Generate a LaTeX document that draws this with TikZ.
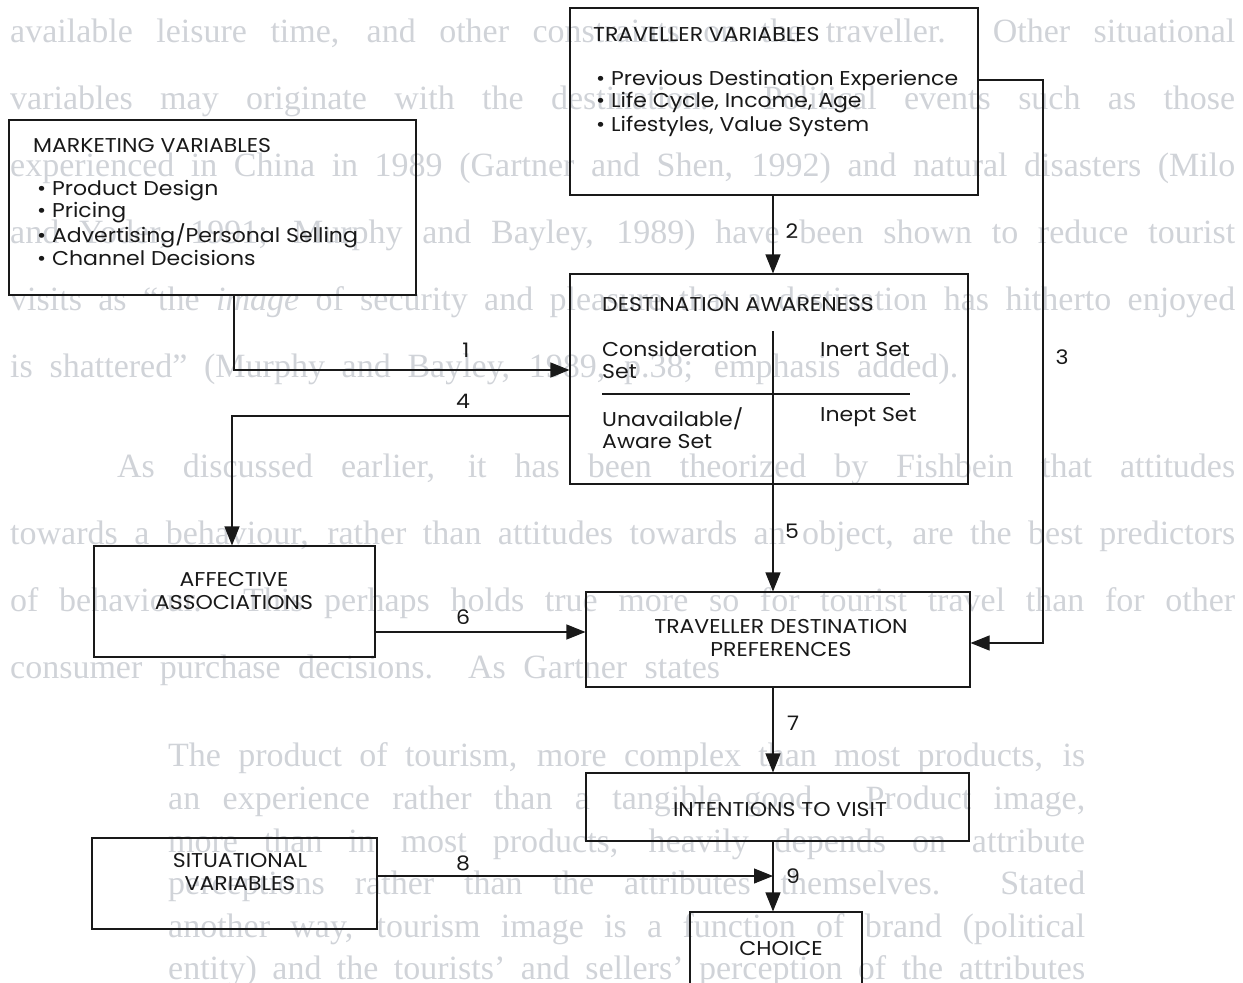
\documentclass[tikz,border=0pt]{standalone}
\usepackage{fontspec}
\setmainfont{Liberation Serif}
\newfontfamily\diag{Poppins}[FakeStretch=1.1]
\usetikzlibrary{arrows.meta}

\definecolor{ink}{RGB}{25,25,25}
\definecolor{faded}{RGB}{208,211,216}

\begin{document}
\begin{tikzpicture}[x=1pt,y=-1pt,
  box/.style={draw=ink, line width=1.1pt, inner sep=0pt},
  lbl/.style={font=\diag\fontsize{20}{22.5}\selectfont, text=ink, inner sep=0pt},
  num/.style={font=\diag\fontsize{20}{22.5}\selectfont, text=ink, inner sep=0pt},
  flow/.style={draw=ink, line width=1.1pt, -{Triangle[length=19pt,width=15pt]}},
  rule/.style={draw=ink, line width=1.1pt},
  para/.style={font=\fontsize{34}{34}\selectfont, text=faded, anchor=base west, inner sep=0pt}]

\useasboundingbox (0,0) rectangle (1243,983);

% ---------- running text of the page ----------
\node[para] (t1) at (10,42) {\makebox[1225pt][s]{available leisure time, and other constraints on the traveller.\ \ Other situational}};
\node[para] (t2) at (10,109) {\makebox[1225pt][s]{variables may originate with the destination.\ \ Political events such as those}};
\node[para] (t3) at (10,176) {\makebox[1225pt][s]{experienced in China in 1989 (Gartner and Shen, 1992) and natural disasters (Milo}};
\node[para] (t4) at (10,243) {\makebox[1225pt][s]{and Yoder, 1991; Murphy and Bayley, 1989) have been shown to reduce tourist}};
\node[para] (t5) at (10,310) {\makebox[1225pt][s]{visits as ``the \textit{image} of security and pleasure that a destination has hitherto enjoyed}};
\node[para] (t6) at (10,377) {\makebox[948pt][s]{is shattered'' (Murphy and Bayley, 1989, p.38; emphasis added).}};
\node[para] (t7) at (117,477) {\makebox[1118pt][s]{As discussed earlier, it has been theorized by Fishbein that attitudes}};
\node[para] (t8) at (10,544) {\makebox[1225pt][s]{towards a behaviour, rather than attitudes towards an object, are the best predictors}};
\node[para] (t9) at (10,611) {\makebox[1225pt][s]{of behaviour.\ \ This perhaps holds true more so for tourist travel than for other}};
\node[para] (t10) at (10,678) {\makebox[710pt][s]{consumer purchase decisions.\ \ As Gartner states}};
\node[para] (q1) at (168,766) {\makebox[917pt][s]{The product of tourism, more complex than most products, is}};
\node[para] (q2) at (168,809) {\makebox[917pt][s]{an experience rather than a tangible good.\ \ Product image,}};
\node[para] (q3) at (168,852) {\makebox[917pt][s]{more than in most products, heavily depends on attribute}};
\node[para] (q4) at (168,894) {\makebox[917pt][s]{perceptions rather than the attributes themselves.\ \ Stated}};
\node[para] (q5) at (168,937) {\makebox[917pt][s]{another way, tourism image is a function of brand (political}};
\node[para] (q6) at (168,979) {\makebox[917pt][s]{entity) and the tourists' and sellers' perception of the attributes}};

% ---------- boxes ----------
\node[box, minimum width=408pt, minimum height=187pt] (trav)   at (774,101.5) {};
\node[box, minimum width=407pt, minimum height=175pt] (mkt)    at (212.5,207.5) {};
\node[box, minimum width=398pt, minimum height=210pt] (aware)  at (769,379) {};
\node[box, minimum width=281pt, minimum height=111pt] (aff)    at (234.5,601.5) {};
\node[box, minimum width=384pt, minimum height=95pt]  (pref)   at (778,639.5) {};
\node[box, minimum width=383pt, minimum height=68pt]  (intent) at (777.5,807) {};
\node[box, minimum width=285pt, minimum height=91pt]  (sit)    at (234.5,883.5) {};
\node[box, minimum width=172pt, minimum height=88pt]  (choice) at (776,956) {};

% ---------- box texts ----------
\node[lbl, anchor=west] (travT) at (593,35) {TRAVELLER VARIABLES};
\node[lbl, anchor=west] (trav1) at (596,80) {\textbullet\ Previous Destination Experience};
\node[lbl, anchor=west] (trav2) at (596,103) {\textbullet\ Life Cycle, Income, Age};
\node[lbl, anchor=west] (trav3) at (596,126) {\textbullet\ Lifestyles, Value System};

\node[lbl, anchor=west] (mktT) at (33,146) {MARKETING VARIABLES};
\node[lbl, anchor=west] (mkt1) at (37,191) {\textbullet\ Product Design};
\node[lbl, anchor=west] (mkt2) at (37,213) {\textbullet\ Pricing};
\node[lbl, anchor=west] (mkt3) at (37,236) {\textbullet\ Advertising/Personal Selling};
\node[lbl, anchor=west] (mkt4) at (37,258) {\textbullet\ Channel Decisions};

\node[lbl, anchor=west] (awT) at (602,305) {DESTINATION AWARENESS};
\node[lbl, anchor=west, align=left] (aw1) at (602,360) {Consideration\\Set};
\node[lbl, anchor=west] (aw2) at (820,350) {Inert Set};
\node[lbl, anchor=west, align=left] (aw3) at (602,428) {Unavailable/\\Aware Set};
\node[lbl, anchor=west] (aw4) at (820,417) {Inept Set};

\node[lbl, align=center] (affT) at (234,591) {AFFECTIVE\\ASSOCIATIONS};
\node[lbl, align=center] (prefT) at (781,638) {TRAVELLER DESTINATION\\PREFERENCES};
\node[lbl] (intT) at (780,809) {INTENTIONS TO VISIT};
\node[lbl, align=center] (sitT) at (240,872) {SITUATIONAL\\VARIABLES};
\node[lbl] (choT) at (781,948) {CHOICE};

% ---------- bend points ----------
\coordinate (spine) at (773,0);
\coordinate (b1) at (234,370);
\coordinate (b3a) at (1043,80);
\coordinate (b3b) at (1043,643);
\coordinate (b4) at (232,416);
\coordinate (b6) at (0,632);
\coordinate (b8) at (0,876);
\coordinate (dv) at (773,331);
\coordinate (dh1) at (602,394);
\coordinate (dh2) at (910,394);

% dividers inside the awareness box
\draw[rule] (dv) -- (aware.south -| dv);
\draw[rule] (dh1) -- (dh2);

% ---------- connectors ----------
\draw[flow] (mkt.south -| b1) -- (b1) -- (aware.west |- b1);
\draw[flow] (trav.south -| spine) -- (aware.north -| spine);
\draw[flow] (trav.east |- b3a) -- (b3a) -- (b3b) -- (pref.east |- b3b);
\draw[flow] (aware.west |- b4) -- (b4) -- (aff.north -| b4);
\draw[flow] (aware.south -| spine) -- (pref.north -| spine);
\draw[flow] (aff.east |- b6) -- (pref.west |- b6);
\draw[flow] (pref.south -| spine) -- (intent.north -| spine);
\draw[flow] (sit.east |- b8) -- (spine |- b8);
\draw[flow] (intent.south -| spine) -- (choice.north -| spine);

% ---------- connector numbers ----------
\node[num] (n1) at (466,350) {1};
\node[num] (n2) at (792,231) {2};
\node[num] (n3) at (1062,357) {3};
\node[num] (n4) at (463,401) {4};
\node[num] (n5) at (792,531) {5};
\node[num] (n6) at (463,617) {6};
\node[num] (n7) at (793,723) {7};
\node[num] (n8) at (463,863) {8};
\node[num] (n9) at (793,876) {9};
\end{tikzpicture}
\end{document}
